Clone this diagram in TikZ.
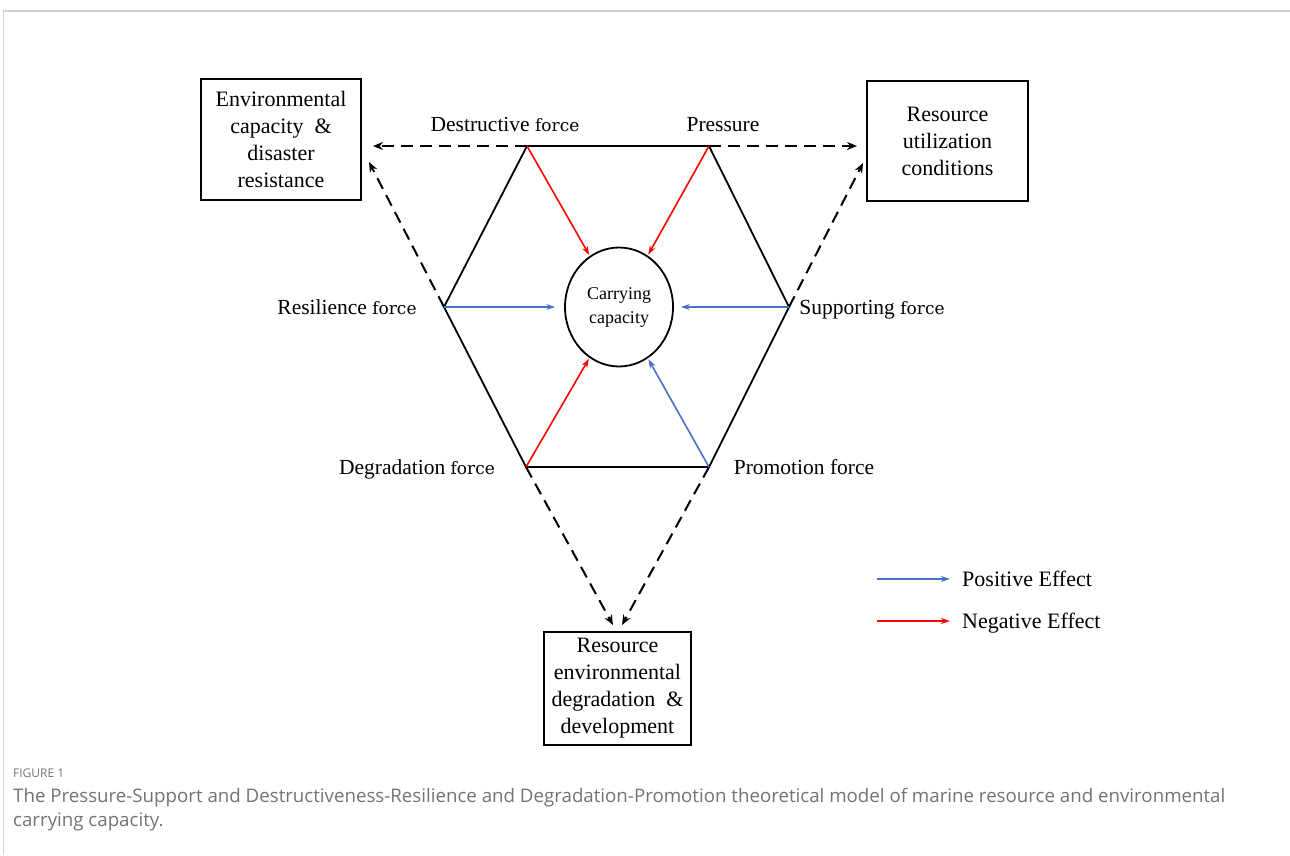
\documentclass[tikz,border=0pt]{standalone}
\usepackage{fontspec}
\setmainfont{Liberation Serif}
\newfontfamily\forcefont{DejaVu Serif}
\newfontfamily\capfont{Open Sans}
\usetikzlibrary{arrows.meta,calc,shapes.geometric}
\definecolor{posblue}{RGB}{68,114,196}
\definecolor{negred}{RGB}{255,0,0}
\definecolor{capgray}{RGB}{115,115,115}
\definecolor{framegray}{RGB}{210,210,210}
\newcommand{\frc}{{\forcefont\fontsize{17}{20}\selectfont force}}
\begin{document}
\begin{tikzpicture}[x=1pt,y=-1pt,
  box/.style={draw,line width=1.8pt,align=center,inner sep=0pt,font=\fontsize{22}{27}\selectfont},
  lbl/.style={font=\fontsize{21.5}{26}\selectfont,inner sep=0pt,text height=1.5ex,text depth=0.25ex,yshift=-5pt},
  hexline/.style={line width=1.8pt},
  dasharrow/.style={line width=2pt,dash pattern=on 12pt off 7pt,-{Stealth[length=10pt,width=8pt]}},
  posarrow/.style={posblue,line width=1.6pt,-{Stealth[length=9pt,width=6pt]}},
  negarrow/.style={negred,line width=1.6pt,-{Stealth[length=9pt,width=6pt]}}
]
\useasboundingbox (0,0) rectangle (1290,855);
% page frame
\draw[framegray,line width=2pt] (3,11) -- (1290,11);
\draw[framegray,line width=1pt] (3.5,11) -- (3.5,855);

% boxes
\node[box,minimum width=160,minimum height=121] (env) at (281,139.5)
  {Environmental\\capacity \ \&\\disaster\\resistance};
\node[box,minimum width=161,minimum height=120] (ru) at (947.5,141)
  {Resource\\utilization\\conditions};
\node[box,minimum width=147,minimum height=113] (rd) at (617.5,688.5)
  {Resource\\environmental\\degradation \ \&\\development};

% hexagon vertices
\coordinate (D) at (527,146);
\coordinate (P) at (709,146);
\coordinate (R) at (444,307);
\coordinate (S) at (789,307);
\coordinate (G) at (526,467);
\coordinate (M) at (709,467);

\draw[hexline] (D) -- (P) -- (S) -- (M) -- (G) -- (R) -- cycle;

% centre
\node[draw,line width=1.8pt,ellipse,inner sep=0pt,minimum width=108,minimum height=119,
  align=center,font=\fontsize{18}{24}\selectfont] (cc) at (619,307) {Carrying\\capacity};

% labels
\node[lbl] (lD) at (505,124) {Destructive \frc};
\node[lbl] (lP) at (723,124) {Pressure};
\node[lbl] (lR) at (347,307) {Resilience \frc};
\node[lbl] (lS) at (872,307) {Supporting \frc};
\node[lbl] (lG) at (417,467) {Degradation \frc};
\node[lbl] (lM) at (804,467) {Promotion force};

% dashed arrows to outer boxes
\coordinate (tL) at (373,146);
\coordinate (tR) at (857,146);
\coordinate (tUL) at (369,162);
\coordinate (tUR) at (863,163);
\coordinate (tB1) at (613,625);
\coordinate (tB2) at (622,625);
\draw[dasharrow] (D) -- (tL);
\draw[dasharrow] (P) -- (tR);
\draw[dasharrow] (R) -- (tUL);
\draw[dasharrow] (S) -- (tUR);
\draw[dasharrow] (G) -- (tB1);
\draw[dasharrow] (M) -- (tB2);

% effect arrows
\draw[negarrow,shorten >=1pt] (D) -- (cc);
\draw[negarrow,shorten >=1pt] (P) -- (cc);
\draw[negarrow,shorten >=1pt] (G) -- (cc);
\draw[posarrow,shorten >=1pt] (M) -- (cc);
\draw[posarrow,shorten >=9pt] (R) -- (cc);
\draw[posarrow,shorten >=7pt] (S) -- (cc);

% legend
\node[lbl,anchor=west,font=\fontsize{22}{26}\selectfont] (lpos) at (962,579) {Positive Effect};
\node[lbl,anchor=west,font=\fontsize{22}{26}\selectfont] (lneg) at (962,621) {Negative Effect};
\coordinate (lp0) at (877,579);
\coordinate (ln0) at (877,621);
\draw[posarrow,shorten >=12pt] (lp0) -- (lp0 -| lpos.west);
\draw[negarrow,shorten >=12pt] (ln0) -- (ln0 -| lneg.west);

% caption
\node[anchor=west,inner sep=0pt,text=capgray,font=\capfont\fontsize{12}{14}\selectfont] (fig) at (13,773) {FIGURE 1};
\node[anchor=north west,inner sep=0pt,align=left,text=capgray,font=\capfont\fontsize{18.7}{24}\selectfont] (cap) at (13,788)
  {The Pressure-Support and Destructiveness-Resilience and Degradation-Promotion theoretical model of marine resource and environmental\\carrying capacity.};
\end{tikzpicture}
\end{document}
